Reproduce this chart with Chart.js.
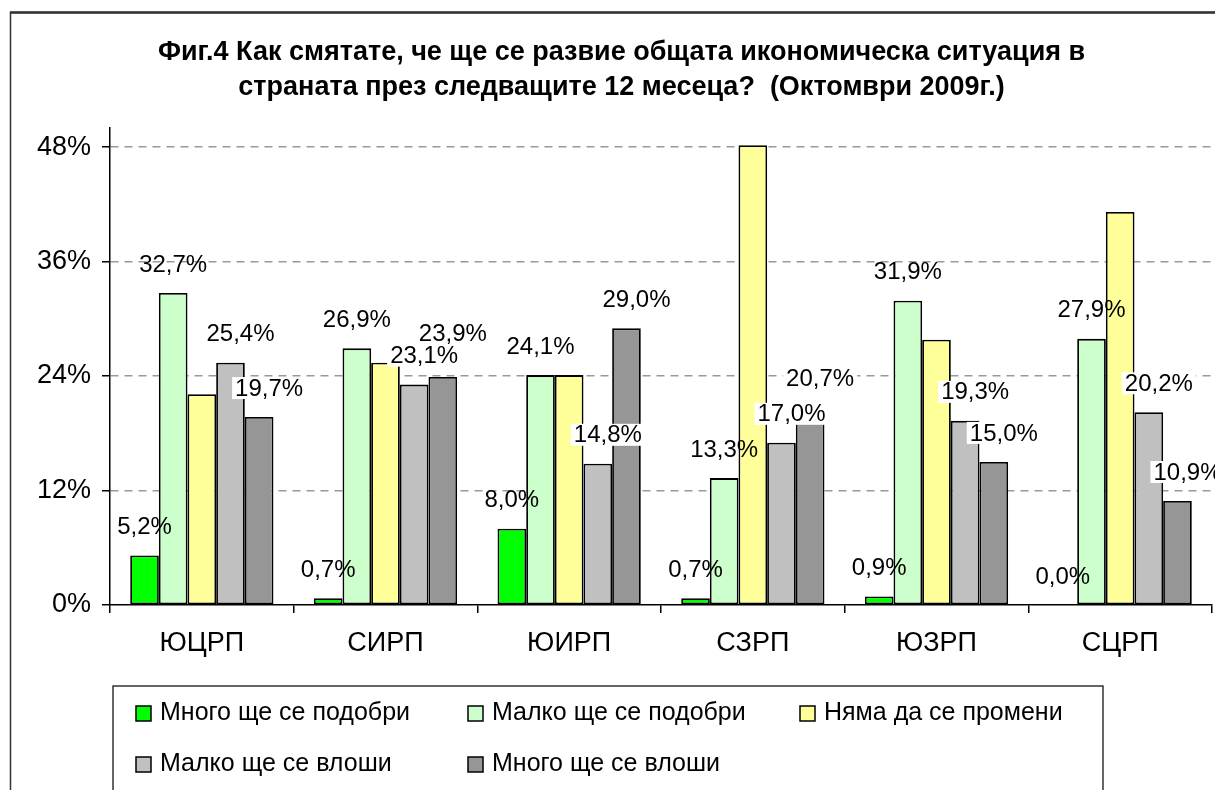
<!DOCTYPE html>
<html>
<head>
<meta charset="utf-8">
<script src="https://cdn.jsdelivr.net/npm/chart.js@4.4.1/dist/chart.umd.min.js"></script>
<style>
    html, body { margin: 0; padding: 0; background: #fff; }
</style>
</head>
<body>
<canvas id="chart" width="1215" height="790"></canvas>
<script>
// --- data ---
const regions = [ 'ЮЦРП', 'СИРП', 'ЮИРП', 'СЗРП', 'ЮЗРП', 'СЦРП' ];
const seriesNames = [
    'Много ще се подобри',
    'Малко ще се подобри',
    'Няма да се промени',
    'Малко ще се влоши',
    'Много ще се влоши'
];
const muchBetter   = [ 5.2, 0.7, 8.0, 0.7, 0.9, 0.0 ];
const littleBetter = [ 32.7, 26.9, 24.1, 13.3, 31.9, 27.9 ];
const noChange     = [ 22.1, 25.4, 24.1, 48.2, 27.8, 41.2 ];
const littleWorse  = [ 25.4, 23.1, 14.8, 17.0, 19.3, 20.2 ];
const muchWorse    = [ 19.7, 23.9, 29.0, 20.7, 15.0, 10.9 ];
const yTicks       = [ 0, 12, 24, 36, 48 ];
const titleLines   = [
    'Фиг.4 Как смятате, че ще се развие общата икономическа ситуация в',
    'страната през следващите 12 месеца?  (Октомври 2009г.)'
];

const FONT = "'Liberation Sans', Arial, sans-serif";

function fmt( v ) {
    return v.toFixed( 1 ).replace( '.', ',' ) + '%';
}

// white background + outer frame of the chart object
const frame = {
    id: 'frame',
    beforeDraw: function ( chart ) {
        const ctx = chart.ctx;
        ctx.save();
        ctx.fillStyle = '#fff';
        ctx.fillRect( 0, 0, chart.width, chart.height );
        ctx.strokeStyle = '#333';
        ctx.lineWidth = 1.5;
        ctx.strokeRect( 10.5, 12.5, 1400, 1000 );
        ctx.lineWidth = 2.5;
        ctx.beginPath();
        ctx.moveTo( 10, 12.5 );
        ctx.lineTo( chart.width, 12.5 );
        ctx.stroke();
        ctx.restore();
    }
};

// value labels above the bars; a label that hits an earlier one moves up
const barLabels = {
    id: 'barLabels',
    afterDatasetsDraw: function ( chart ) {
        const ctx = chart.ctx;
        const placed = regions.map( function () { return []; } );
        ctx.save();
        ctx.font = '24px ' + FONT;
        ctx.textAlign = 'center';
        ctx.textBaseline = 'middle';
        chart.data.datasets.forEach( function ( ds, di ) {
            if ( ! ds.showLabels ) {
                return;
            }
            chart.getDatasetMeta( di ).data.forEach( function ( bar, i ) {
                const text = fmt( ds.data[i] );
                const w = ctx.measureText( text ).width + 6;
                const h = 22;
                const x = bar.x + ds.labelDx;
                let y = bar.y - 29;
                let moved = true;
                while ( moved ) {
                    moved = false;
                    placed[i].forEach( function ( p ) {
                        if ( Math.abs( p.x - x ) < ( p.w + w ) / 2 && Math.abs( p.y - y ) < ( p.h + h ) / 2 - 0.5 ) {
                            y = p.y - ( p.h + h ) / 2;
                            moved = true;
                        }
                    } );
                }
                placed[i].push( { x: x, y: y, w: w, h: h } );
                if ( ds.labelBg ) {
                    ctx.fillStyle = '#fff';
                    ctx.fillRect( x - w / 2, y - h / 2, w, h );
                }
                ctx.fillStyle = '#000';
                ctx.fillText( text, x, y + 1 );
            } );
        } );
        ctx.restore();
    }
};

// boxed legend in a 3-column grid, like the Excel one
const gridLegend = {
    id: 'gridLegend',
    afterDraw: function ( chart ) {
        const ctx = chart.ctx;
        ctx.save();
        ctx.strokeStyle = '#333';
        ctx.lineWidth = 1.5;
        ctx.strokeRect( 113, 686, 990, 200 );
        ctx.font = '25px ' + FONT;
        ctx.textBaseline = 'middle';
        chart.data.datasets.forEach( function ( ds, i ) {
            const col = i % 3;
            const row = Math.floor( i / 3 );
            const x = 136 + col * 332;
            const y = 713 + row * 51;
            ctx.fillStyle = ds.backgroundColor;
            ctx.fillRect( x, y - 7, 15, 15 );
            ctx.strokeStyle = '#000';
            ctx.lineWidth = 1.5;
            ctx.strokeRect( x, y - 7, 15, 15 );
            ctx.fillStyle = '#000';
            ctx.fillText( ds.label, x + 24, y );
        } );
        ctx.restore();
    }
};

const seriesValues = [ muchBetter, littleBetter, noChange, littleWorse, muchWorse ];
const seriesColors = [ '#00ff00', '#ccffcc', '#ffff99', '#c0c0c0', '#969696' ];
const seriesLabelStyle = [
    { show: true,  dx: 0,  bg: false },
    { show: true,  dx: 0,  bg: false },
    { show: false, dx: 0,  bg: false },
    { show: true,  dx: 10, bg: true },
    { show: true,  dx: 10, bg: true }
];

const datasets = seriesValues.map( function ( values, i ) {
    return {
        label: seriesNames[i],
        data: values,
        backgroundColor: seriesColors[i],
        borderColor: '#000',
        borderWidth: 1.8,
        borderSkipped: false,
        showLabels: seriesLabelStyle[i].show,
        labelDx: seriesLabelStyle[i].dx,
        labelBg: seriesLabelStyle[i].bg
    };
} );

new Chart( document.getElementById( 'chart' ).getContext( '2d' ), {
    type: 'bar',
    data: { labels: regions, datasets: datasets },
    plugins: [ frame, barLabels, gridLegend ],
    options: {
        responsive: false,
        animation: false,
        devicePixelRatio: 1,
        categoryPercentage: 0.78,
        barPercentage: 1.0,
        layout: { padding: { left: 31, right: 3, top: 0, bottom: 130 } },
        plugins: {
            legend: { display: false },
            tooltip: { enabled: false },
            title: {
                display: true,
                text: titleLines,
                color: '#000',
                font: { family: FONT, size: 27, weight: 'bold', lineHeight: 1.296 },
                padding: { top: 35, bottom: 23 }
            }
        },
        scales: {
            x: {
                afterFit: function ( scale ) { scale.height = 55; },
                border: { display: true, color: '#000', width: 1.5 },
                grid: {
                    offset: true,
                    drawOnChartArea: false,
                    drawTicks: true,
                    tickLength: 8,
                    color: '#000',
                    lineWidth: 1.5
                },
                ticks: {
                    color: '#000',
                    padding: 14,
                    font: { family: FONT, size: 27 }
                }
            },
            y: {
                min: 0,
                max: 50,
                afterFit: function ( scale ) { scale.width = 79; },
                afterBuildTicks: function ( scale ) {
                    scale.ticks = yTicks.map( function ( v ) { return { value: v }; } );
                },
                border: { display: true, color: '#000', width: 1.5, dash: [ 8, 6 ] },
                grid: {
                    color: function ( c ) { return c.tick && c.tick.value === 0 ? 'rgba(0,0,0,0)' : '#999'; },
                    lineWidth: 1.5,
                    drawTicks: true,
                    tickLength: 8,
                    tickColor: '#000',
                    tickWidth: 1.5,
                    tickBorderDash: []
                },
                ticks: {
                    color: '#000',
                    padding: 11,
                    font: { family: FONT, size: 27 },
                    callback: function ( v ) { return v + '%'; }
                }
            }
        }
    }
} );
</script>
</body>
</html>
